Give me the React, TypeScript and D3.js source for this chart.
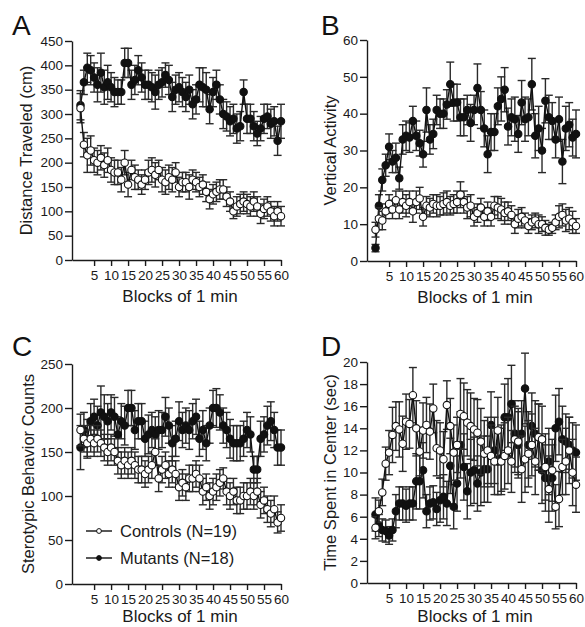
import React, { useEffect, useRef } from 'react';
import * as d3 from 'd3';

const blocks = d3.range(1, 61);
const xTicks = [5, 10, 15, 20, 25, 30, 35, 40, 45, 50, 55, 60];

// A: distance traveled
const distMut = [318, 365, 395, 390, 375, 360, 385, 355, 365, 355, 345, 345, 345, 405, 405, 360, 370, 390, 375, 360, 360, 355, 345, 360, 365, 380, 370, 335, 350, 355, 345, 335, 350, 320, 330, 360, 355, 350, 310, 345, 360, 330, 300, 295, 285, 290, 270, 275, 345, 290, 290, 275, 260, 270, 290, 295, 280, 285, 245, 285];
const distMutErr = [30, 25, 30, 30, 30, 35, 40, 35, 35, 30, 30, 25, 25, 30, 30, 30, 30, 30, 30, 30, 30, 30, 35, 30, 30, 25, 30, 30, 30, 30, 30, 30, 30, 30, 30, 35, 40, 35, 30, 30, 30, 30, 30, 30, 30, 30, 30, 30, 25, 30, 30, 30, 25, 25, 30, 25, 30, 30, 30, 35];
const distCtl = [312, 237, 215, 225, 205, 200, 210, 195, 205, 185, 180, 180, 165, 200, 155, 185, 170, 165, 155, 165, 180, 185, 175, 185, 165, 160, 170, 165, 180, 150, 160, 160, 150, 165, 160, 150, 155, 140, 125, 135, 140, 145, 145, 130, 120, 100, 110, 115, 120, 115, 110, 120, 110, 95, 105, 110, 100, 90, 100, 90];
const distCtlErr = [30, 25, 35, 30, 25, 25, 25, 25, 25, 25, 25, 25, 25, 25, 25, 20, 25, 20, 20, 20, 25, 25, 25, 20, 25, 25, 25, 25, 20, 20, 20, 20, 25, 20, 20, 20, 20, 20, 20, 20, 20, 20, 20, 20, 20, 15, 20, 20, 20, 20, 20, 20, 20, 20, 20, 20, 20, 20, 20, 20];

// B: vertical activity
const vertMut = [3.5, 15, 22, 26, 31, 27, 28, 22.5, 33, 34, 33.5, 38, 34, 32, 29, 41, 33, 34.5, 41, 40, 40, 42.5, 48, 43, 43, 39, 39, 41, 37.5, 41, 47, 41, 36, 29, 35, 35, 42, 44, 46.5, 36.5, 39, 38.5, 34.5, 43, 38.5, 39, 48, 34, 36, 30, 43.5, 39, 38, 33, 38.5, 27, 36, 37, 33.5, 34.5];
const vertMutErr = [1, 3, 3, 3, 3.5, 3, 4, 3, 4, 4, 4, 4, 4, 3.5, 3.5, 6, 4, 4, 4, 4, 4, 4, 6, 5, 5, 5, 5, 4, 5, 4, 6.5, 5, 5, 5, 5, 5, 5, 6, 6, 5, 5, 6, 5, 6, 6, 5, 7, 6, 6, 6, 6, 6, 5, 5, 6, 6, 6, 6, 5, 6.5];
const vertCtl = [8.5, 11.5, 11, 13.5, 15.5, 14, 16.5, 14, 16, 15, 16, 13.5, 16, 17, 12, 15, 14.5, 15.5, 15, 15, 15.5, 16, 15, 15.5, 16, 18, 16, 14.5, 15, 12, 13, 14.5, 12, 13.5, 12, 15, 14.5, 14, 13, 13.5, 12.5, 10, 11.5, 12, 11, 9.5, 10.5, 11, 10, 10, 9, 8.5, 9, 10.5, 12, 12.5, 11, 11.5, 10.5, 9.5];
const vertCtlErr = [2, 3, 2.5, 2, 2.5, 2.5, 2.5, 2.5, 3, 3, 3, 3, 3, 3, 2.5, 2.5, 2.5, 2.5, 3, 2.5, 3, 3, 2.5, 2.5, 3, 3.5, 3, 3, 3, 2.5, 2.5, 2.5, 2.5, 2.5, 2.5, 2.5, 3, 3, 3, 2.5, 2.5, 2.5, 2.5, 2.5, 2, 2, 2, 2, 2.5, 2, 2, 1.5, 1.5, 2, 3, 3, 3, 3, 3, 2];

// C: stereotypic counts
const sterMut = [155, 175, 165, 185, 190, 180, 195, 190, 185, 195, 190, 170, 185, 180, 200, 200, 175, 185, 185, 165, 170, 175, 170, 175, 175, 190, 180, 160, 165, 185, 175, 180, 175, 185, 190, 165, 175, 160, 180, 200, 200, 195, 180, 175, 165, 160, 160, 160, 165, 175, 170, 130, 130, 165, 170, 180, 185, 175, 155, 155];
const sterMutErr = [25, 20, 22, 20, 20, 22, 30, 25, 20, 20, 22, 20, 20, 22, 20, 20, 22, 20, 20, 20, 22, 20, 20, 22, 20, 22, 20, 20, 20, 22, 20, 20, 22, 20, 20, 20, 22, 20, 20, 20, 22, 20, 20, 20, 22, 20, 20, 20, 20, 20, 20, 15, 15, 20, 20, 22, 22, 20, 20, 20];
const sterCtl = [175, 165, 160, 165, 160, 165, 160, 155, 150, 155, 150, 140, 135, 140, 135, 140, 135, 130, 130, 125, 130, 135, 150, 120, 130, 135, 125, 130, 125, 110, 115, 110, 120, 120, 125, 120, 105, 110, 100, 105, 110, 115, 120, 105, 100, 105, 95, 95, 100, 100, 105, 100, 105, 90, 95, 85, 80, 85, 70, 75];
const sterCtlErr = [18, 15, 15, 15, 15, 15, 15, 15, 15, 15, 15, 15, 15, 15, 15, 15, 15, 15, 15, 15, 15, 15, 15, 15, 15, 15, 15, 15, 15, 15, 15, 15, 15, 15, 15, 15, 15, 15, 15, 15, 15, 15, 12, 15, 15, 15, 15, 15, 15, 15, 15, 15, 15, 15, 15, 15, 15, 15, 12, 15];

// D: time in center
const timeMut = [6.2, 5.2, 4.8, 4.7, 4.3, 4.8, 6.5, 7.2, 7.2, 7.0, 7.2, 7.2, 9.2, 9.2, 10.2, 6.5, 7.2, 7.3, 6.7, 7.5, 7.8, 7.2, 10.6, 6.9, 9.0, 12.5, 10.5, 8.3, 10.0, 10.2, 9.0, 10.0, 10.3, 10.3, 14.3, 12.0, 11.0, 11.3, 15.0, 15.0, 16.2, 13.5, 12.5, 13.5, 17.6, 12.5, 14.2, 13.5, 13.2, 10.2, 9.5, 11.0, 9.5, 14.0, 14.6, 13.0, 12.8, 12.5, 12.0, 11.8];
const timeMutErr = [1.5, 1, 1, 1, 0.8, 1, 1.5, 1.5, 1.5, 1.5, 1.5, 1.5, 2.5, 2.5, 2.5, 1.5, 1.5, 1.5, 1.5, 2, 2, 2, 2.5, 2, 2.5, 3, 3, 2.5, 3, 3, 2.5, 3, 3, 3, 3, 3, 3, 3, 3, 3.5, 3.5, 3, 3, 3, 3.2, 3, 3, 3, 3, 3, 3, 3, 3, 3, 3, 3, 2.5, 2.5, 2.5, 2.5];
const timeCtl = [5.0, 6.5, 8.2, 10.8, 11.8, 13.4, 14.2, 13.9, 12.6, 14.6, 14.4, 17.0, 14.0, 11.9, 13.8, 14.3, 13.7, 15.8, 12.2, 12.0, 11.2, 16.1, 14.2, 11.8, 12.5, 15.3, 15.1, 14.5, 14.2, 13.9, 13.6, 12.8, 11.7, 12.0, 11.5, 11.0, 13.8, 11.0, 11.5, 12.0, 11.0, 13.0, 12.8, 10.3, 11.2, 11.7, 12.5, 11.0, 13.2, 13.0, 10.5, 8.5, 10.2, 6.9, 7.6, 10.5, 11.0, 12.0, 10.0, 8.9];
const timeCtlErr = [1, 1, 1.2, 1.5, 2, 2.5, 2.2, 2.5, 2.5, 2.5, 2.2, 2.5, 2.5, 2.2, 2.5, 2.5, 2.5, 2.2, 2.5, 2.5, 2.5, 2.2, 2.5, 2.5, 2.5, 3.2, 3, 3, 3, 2.8, 3, 3, 3, 3, 2.8, 3, 3, 3, 3, 3, 2.8, 3, 3, 3, 3, 3, 2.8, 3, 3, 3, 3, 3, 2.8, 2, 2.5, 2.5, 3, 3, 3, 2.5];

const panels = [
  { letter: 'A', label: 'Distance Traveled (cm)', ymax: 450, yTicks: d3.range(0, 451, 50), left: 72, top: 41, bottom: 260, mut: distMut, mutErr: distMutErr, ctl: distCtl, ctlErr: distCtlErr, labelX: 32, letterX: 12, letterY: 35, titleGap: 42 },
  { letter: 'B', label: 'Vertical Activity', ymax: 60, yTicks: d3.range(0, 61, 10), left: 367, top: 40, bottom: 261, mut: vertMut, mutErr: vertMutErr, ctl: vertCtl, ctlErr: vertCtlErr, labelX: 336, letterX: 321, letterY: 35, titleGap: 42 },
  { letter: 'C', label: 'Sterotypic Behavior Counts', ymax: 250, yTicks: d3.range(0, 251, 50), left: 72, top: 364, bottom: 584, mut: sterMut, mutErr: sterMutErr, ctl: sterCtl, ctlErr: sterCtlErr, labelX: 34, letterX: 12, letterY: 356, titleGap: 38 },
  { letter: 'D', label: 'Time Spent in Center (sec)', ymax: 20, yTicks: d3.range(0, 21, 2), left: 367, top: 362, bottom: 583, mut: timeMut, mutErr: timeMutErr, ctl: timeCtl, ctlErr: timeCtlErr, labelX: 336, letterX: 321, letterY: 356, titleGap: 39 },
];

const FONT = 'Liberation Sans, Arial, Helvetica, sans-serif';
const INK = '#1a1a1a';

export default function App() {
  const svgRef = useRef<SVGSVGElement>(null);

  useEffect(() => {
    const svg = d3.select(svgRef.current);
    svg.selectAll('*').remove();
    svg.append('rect').attr('width', 585).attr('height', 627).attr('fill', '#fff');

    panels.forEach(p => {
      const g = svg.append('g');
      const x = d3.scaleLinear().domain([-1.5, 60]).range([p.left, p.left + 209]);
      const y = d3.scaleLinear().domain([0, p.ymax]).range([p.bottom, p.top]);

      // axes
      const xAxis = g.append('g')
        .attr('transform', `translate(0,${p.bottom})`)
        .call(d3.axisBottom(x).tickValues(xTicks).tickSize(6).tickPadding(4).tickSizeOuter(0));
      xAxis.select('.domain').attr('stroke', INK).attr('stroke-width', 1.4);
      xAxis.selectAll('.tick line').attr('stroke', INK).attr('stroke-width', 1.4);
      xAxis.selectAll('.tick text').attr('font-size', 13.5).attr('font-family', FONT).attr('fill', INK);

      const yAxis = g.append('g')
        .attr('transform', `translate(${p.left},0)`)
        .call(d3.axisLeft(y).tickValues(p.yTicks).tickSize(7).tickPadding(2).tickSizeOuter(0));
      yAxis.select('.domain').attr('stroke', INK).attr('stroke-width', 1.4);
      yAxis.selectAll('.tick line').attr('stroke', INK).attr('stroke-width', 1.4);
      yAxis.selectAll('.tick text').attr('font-size', 13.5).attr('font-family', FONT).attr('fill', INK);

      g.append('text')
        .attr('x', p.left + 108).attr('y', p.bottom + p.titleGap)
        .attr('text-anchor', 'middle').attr('font-size', 17).attr('font-family', FONT).attr('fill', INK)
        .text('Blocks of 1 min');

      g.append('text')
        .attr('transform', `translate(${p.labelX},${(p.top + p.bottom) / 2}) rotate(-90)`)
        .attr('text-anchor', 'middle').attr('font-size', 16.5).attr('font-family', FONT).attr('fill', INK)
        .text(p.label);

      g.append('text')
        .attr('x', p.letterX).attr('y', p.letterY)
        .attr('font-size', 28).attr('font-family', FONT).attr('fill', '#111')
        .text(p.letter);

      const drawSeries = (vals: number[], errs: number[], filled: boolean) => {
        const sg = g.append('g');
        sg.selectAll('line.err').data(blocks).enter().append('line')
          .attr('x1', d => x(d)).attr('x2', d => x(d))
          .attr('y1', (d, i) => y(vals[i] - errs[i])).attr('y2', (d, i) => y(vals[i] + errs[i]))
          .attr('stroke', '#2a2a2a').attr('stroke-width', 1.4);
        [1, -1].forEach(s => {
          sg.selectAll(null).data(blocks).enter().append('line')
            .attr('x1', d => x(d) - 4).attr('x2', d => x(d) + 4)
            .attr('y1', (d, i) => y(vals[i] + s * errs[i])).attr('y2', (d, i) => y(vals[i] + s * errs[i]))
            .attr('stroke', '#2a2a2a').attr('stroke-width', 1.4);
        });
        const line = d3.line<number>().x(d => x(d)).y((d, i) => y(vals[i]));
        sg.append('path').datum(blocks).attr('d', line)
          .attr('fill', 'none').attr('stroke', '#111').attr('stroke-width', 1.4);
        sg.selectAll('circle').data(blocks).enter().append('circle')
          .attr('cx', d => x(d)).attr('cy', (d, i) => y(vals[i])).attr('r', 3.7)
          .attr('fill', filled ? '#111' : '#fff').attr('stroke', '#111').attr('stroke-width', 1.1);
      };

      drawSeries(p.mut, p.mutErr, true);
      drawSeries(p.ctl, p.ctlErr, false);

      if (p.letter === 'C') {
        const legend = [
          { name: 'Controls (N=19)', filled: false, yy: 531 },
          { name: 'Mutants (N=18)', filled: true, yy: 558 },
        ];
        legend.forEach(l => {
          g.append('line').attr('x1', 86).attr('x2', 112).attr('y1', l.yy).attr('y2', l.yy)
            .attr('stroke', '#111').attr('stroke-width', 1.4);
          g.append('circle').attr('cx', 99).attr('cy', l.yy).attr('r', 2.4)
            .attr('fill', l.filled ? '#111' : '#fff').attr('stroke', '#111').attr('stroke-width', 1);
          g.append('text').attr('x', 120).attr('y', l.yy + 6)
            .attr('font-size', 16.5).attr('font-family', FONT).attr('fill', INK)
            .text(l.name);
        });
      }
    });
  }, []);

  return (
    <svg ref={svgRef} width={585} height={627}
      style={{ position: 'absolute', left: 0, top: 0, background: '#fff' }} />
  );
}
